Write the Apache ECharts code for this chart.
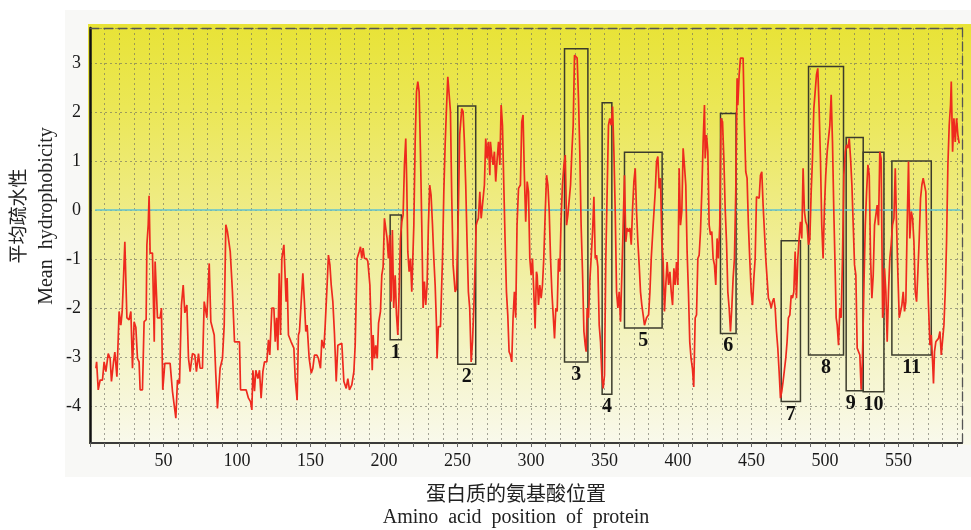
<!DOCTYPE html>
<html><head><meta charset="utf-8">
<script src="https://cdn.jsdelivr.net/npm/echarts@6/dist/echarts.min.js"></script>
<style>html,body{margin:0;padding:0;background:#fff}#c{width:971px;height:530px}</style>
</head><body><div id="c"></div>
<script>
// amino-acid positions and mean hydrophobicity
const positions = [
4.0,4.5,5.6,6.9,8.5,9.6,10.8,12.4,13.7,14.6,16.0,16.9,18.3,19.2,19.8,21.0,21.9,22.8,23.7,25.1,26.6,27.8,28.9,30.0,31.2,32.3,33.4,34.1,35.7,36.8,38.2,38.7,39.6,40.2,40.9,42.5,43.7,44.3,45.2,45.9,47.7,48.6,49.5,50.9,54.5,56.1,58.4,59.5,60.9,62.2,63.4,64.5,65.9,67.0,68.1,69.7,71.3,72.4,73.8,74.9,76.5,77.7,79.5,81.1,82.2,84.5,85.6,86.7,88.5,90.1,91.3,92.4,93.5,95.4,96.9,
98.3,101.7,102.4,104.6,106.2,107.8,109.2,110.1,110.8,111.9,112.8,114.2,115.3,116.4,117.6,118.7,120.3,121.4,122.3,123.7,125.1,126.0,126.9,127.8,128.7,129.6,130.5,131.9,132.8,133.4,134.1,135.0,136.8,138.7,139.6,140.9,141.8,142.5,143.7,144.8,145.9,146.8,147.7,149.1,150.5,151.6,152.7,154.3,155.4,156.8,157.7,159.1,160.0,161.3,162.2,163.2,164.1,165.2,166.3,167.5,168.6,169.7,171.3,172.7,174.3,175.4,176.5,178.1,179.5,180.4,181.7,183.1,184.0,184.9,185.8,186.7,188.1,189.0,190.4,191.3,192.0,192.6,193.5,194.4,195.4,196.3,197.6,198.5,199.4,
200.3,201.4,202.1,203.0,203.9,204.8,205.7,206.6,207.6,208.5,209.4,210.3,211.2,212.1,213.0,213.9,214.8,215.5,216.2,217.1,218.0,218.9,220.3,221.2,222.1,223.0,223.9,224.8,225.7,226.6,227.5,228.4,229.3,230.2,231.1,232.0,233.0,233.9,234.8,235.7,236.1,237.0,238.4,239.8,240.7,241.6,242.5,243.4,244.3,245.2,246.1,247.0,248.4,249.3,250.6,251.5,252.9,253.8,254.7,255.6,256.5,257.4,258.3,259.3,260.2,261.1,261.8,262.7,263.3,264.2,265.2,266.1,267.4,268.3,269.2,270.1,271.0,272.0,272.4,273.3,274.2,275.1,276.0,277.0,277.9,278.8,279.7,280.6,281.5,282.4,283.3,284.2,285.1,286.0,286.9,287.8,288.7,289.6,290.5,291.5,292.8,293.7,294.6,295.5,296.4,297.4,298.3,299.2,300.1,301.0,301.9,302.8,303.7,
304.2,305.1,306.0,306.9,307.8,308.7,309.7,310.6,311.5,312.4,313.3,314.2,315.1,316.0,316.9,317.8,318.7,319.6,320.5,321.4,322.4,323.3,324.2,325.1,326.0,326.9,327.8,328.7,329.6,330.5,331.4,332.3,333.2,334.1,335.1,336.0,336.9,337.5,338.2,339.1,340.0,340.9,341.9,342.8,343.7,344.6,345.5,346.4,347.3,348.2,349.1,350.0,350.9,351.8,352.7,353.6,354.6,355.5,356.4,357.3,358.2,359.1,360.0,360.9,361.8,362.7,363.6,364.5,365.4,366.3,367.3,368.2,369.1,370.0,370.9,371.8,372.7,373.6,374.5,375.4,376.3,377.2,378.6,380.0,380.9,381.8,383.1,384.5,385.4,386.3,387.2,388.1,389.0,389.9,390.8,391.7,392.6,393.6,394.5,395.4,396.3,397.2,398.1,399.0,399.9,400.8,401.7,402.6,403.5,
404.4,405.3,406.2,407.1,408.0,408.9,409.8,410.7,411.7,412.6,413.5,414.4,415.3,416.2,417.1,418.0,418.5,419.4,420.3,421.2,422.1,423.0,423.9,424.8,425.7,426.6,427.5,428.4,429.3,430.3,431.2,432.1,433.0,433.9,434.8,435.7,436.6,437.5,438.4,439.3,440.2,440.7,441.6,442.5,443.4,444.3,445.2,446.1,447.0,447.9,448.8,449.8,450.7,451.6,452.5,453.4,454.3,455.2,456.1,457.0,457.9,458.8,459.7,460.6,461.5,462.4,463.4,464.3,465.2,466.1,467.0,467.9,468.8,469.7,470.6,471.5,472.4,473.3,474.2,475.1,476.1,477.0,477.9,478.8,479.7,480.6,481.5,482.4,483.3,484.2,485.1,486.0,486.9,487.8,488.8,489.7,490.6,491.5,492.4,493.3,494.2,495.1,496.0,496.9,497.8,498.7,499.6,500.5,501.5,502.4,503.3,504.2,505.1,506.0,
506.9,507.6,508.3,509.2,510.1,511.0,511.9,512.8,513.8,514.7,515.6,516.5,517.4,518.3,519.2,520.1,521.0,521.9,522.8,523.7,524.6,525.5,526.5,527.4,528.3,529.2,530.1,531.0,531.9,532.8,533.7,534.6,535.5,536.4,537.3,538.2,539.2,540.1,540.5,541.4,542.3,543.2,544.1,545.0,545.9,546.9,547.8,548.7,549.6,550.5,551.4,552.3,553.2,554.1,555.0,555.9,556.8,557.7,558.7,559.6,560.5,561.4,562.3,563.2,564.1,565.0,565.9,566.8,567.7,568.6,569.5,570.4,571.4,572.3,573.2,573.8,574.5,575.4,576.3,577.2,578.2,579.1,580.0,580.9,581.8,582.7,583.6,584.5,585.4,585.9,586.8,587.7,588.6,589.5,590.4,591.3
];
const hydro = [
-3.23,-3.1,-3.67,-3.47,-3.47,-3.1,-3.3,-2.93,-3.03,-3.5,-3.1,-2.9,-3.4,-2.62,-2.07,-2.35,-2.07,-1.39,-0.65,-2.2,-2.24,-2.07,-3.23,-2.28,-2.4,-3.03,-3.1,-3.67,-3.67,-2.28,-2.24,-0.71,-0.3,0.29,-0.88,-0.88,-2.69,-1.05,-1.05,-2.2,-2.2,-2.0,-3.67,-3.13,-3.13,-3.7,-4.25,-3.47,-3.54,-1.94,-1.53,-2.1,-1.94,-3.03,-3.3,-2.93,-2.96,-3.3,-2.93,-3.23,-3.23,-1.87,-2.2,-1.09,-2.28,-2.55,-3.37,-4.05,-3.23,-3.03,-2.35,-0.3,-0.44,-0.85,-1.67,
-2.69,-2.69,-3.67,-3.67,-3.67,-3.84,-3.91,-4.08,-3.27,-3.7,-3.27,-3.44,-3.27,-3.84,-3.3,-3.1,-3.1,-2.65,-2.96,-2.0,-2.0,-2.69,-2.2,-2.86,-1.29,-2.55,-0.99,-0.71,-0.71,-1.87,-1.39,-2.55,-2.69,-2.82,-3.44,-3.88,-2.55,-2.48,-2.48,-1.29,-1.9,-2.48,-2.35,-3.03,-3.33,-3.23,-2.96,-2.96,-3.03,-3.23,-2.65,-2.82,-2.35,-1.53,-0.92,-1.12,-1.53,-1.87,-2.52,-3.5,-2.76,-2.72,-2.72,-3.5,-3.64,-3.44,-3.67,-3.57,-3.3,-2.76,-0.99,-0.85,-0.75,-0.99,-0.78,-0.99,-0.99,-1.05,-1.53,-2.48,-3.27,-2.55,-3.03,-2.76,-3.03,-2.31,-2.07,-1.33,-1.16,
-0.17,-0.14,-0.58,-0.99,-0.51,-1.87,-0.41,-2.0,-1.33,-2.14,-2.55,-1.67,-0.58,-0.24,-0.1,0.92,1.46,0.51,-0.85,-1.26,-0.99,-1.67,-0.31,1.39,2.41,2.62,2.41,1.19,-0.31,-2.0,-1.46,-1.94,-1.53,-0.31,0.51,0.31,-0.31,-0.99,-1.53,-2.35,-3.03,-2.38,-2.38,-0.99,0.37,1.33,2.07,2.72,2.72,2.01,0.24,-1.12,-1.67,-1.6,0.03,1.53,2.07,2.01,1.39,0.51,-0.65,-1.67,-2.0,-3.1,-2.69,-2.0,-1.33,-0.31,-0.24,-0.17,0.37,-0.17,-0.17,0.51,1.46,1.05,1.39,0.71,1.39,1.12,0.92,1.19,0.58,1.05,1.39,0.92,2.14,1.73,0.51,-0.65,-1.67,-2.14,-2.89,-2.96,-3.1,-2.2,-1.67,-2.2,-0.31,0.44,0.51,1.8,1.94,0.71,-0.24,0.58,0.37,-0.99,-1.33,-0.99,-1.67,-2.42,-1.26,
-1.33,-1.94,-1.53,-1.8,-1.53,-0.99,-0.03,0.71,0.51,-0.03,-0.99,-1.67,-2.14,-2.62,-2.0,-2.07,-0.99,-1.26,-0.17,0.51,0.92,1.12,-0.31,-0.1,-0.1,0.51,1.19,1.73,3.16,3.2,3.1,2.28,1.19,-0.31,-1.33,-2.48,-2.76,-2.89,-2.0,-2.2,-1.46,-0.99,-0.44,0.27,-0.99,-0.92,-1.16,-2.35,-2.69,-3.37,-3.64,-3.37,-0.99,0.37,1.73,1.87,1.73,2.11,1.19,-0.03,-1.67,-2.0,-1.67,-2.28,-1.33,-0.31,0.71,-0.65,-0.37,-0.44,-0.37,-0.71,0.03,0.58,0.85,-0.03,-0.65,-1.12,-1.67,-1.94,-2.14,-2.35,-2.2,-2.14,-1.67,-0.99,-0.31,0.37,0.99,1.09,0.44,0.65,-0.65,-1.06,-2.07,-1.53,-1.06,-1.53,-1.26,-1.67,-1.94,-1.19,-1.53,-1.06,-1.53,0.85,-0.31,-0.03,1.26,
0.9,0.51,-0.85,-1.67,-2.69,-3.03,-3.23,-3.61,-2.2,-2.14,-0.99,-0.92,-0.44,0.37,1.39,2.14,1.05,1.53,1.19,-0.31,-0.51,-0.44,-0.99,-1.12,-1.53,-0.58,-0.99,-0.31,1.87,1.8,1.05,0.03,-0.65,-1.67,-2.0,-2.48,-2.0,-1.39,-0.99,0.37,2.69,2.14,2.76,3.1,3.13,3.1,1.73,0.78,0.65,-0.31,-0.99,-1.67,-1.94,-1.39,-0.99,0.27,0.31,0.24,0.71,0.78,0.1,-0.44,-0.99,-1.39,-1.8,-1.87,-2.0,-1.87,-1.8,-2.0,-2.48,-2.82,-3.3,-3.84,-3.7,-3.5,-3.5,-3.03,-2.69,-2.2,-2.14,-1.74,-1.8,-1.67,-0.85,-1.8,-0.99,-0.58,-0.24,-0.58,0.85,-0.03,-0.24,-0.31,-0.71,-0.58,0.37,1.05,2.07,2.41,2.76,2.89,2.07,1.05,-0.31,-0.99,0.03,0.71,1.19,1.46,1.73,2.35,1.39,-0.03,
-1.2,-2.2,-2.35,-2.76,-2.0,-2.2,-0.99,0.71,1.19,1.33,1.26,1.46,1.05,0.51,-0.31,-1.12,-1.33,-2.82,-2.82,-2.96,-3.67,-3.03,-1.53,-0.31,0.37,0.92,0.71,-0.99,-1.8,-1.33,-0.31,-0.31,0.1,-0.31,1.19,1.05,-2.2,-1.9,-1.19,-1.67,-2.69,-1.67,-0.99,-0.71,-0.31,-0.17,0.85,-0.31,-1.33,-2.2,-2.2,-1.94,-1.67,-2.07,-1.87,-0.31,0.99,-0.58,-0.03,-0.17,-0.65,-1.67,-1.87,-1.26,-0.58,0.24,0.51,0.65,0.68,0.37,-0.99,-1.94,-2.76,-2.55,-3.1,-3.54,-2.89,-2.69,-2.69,-2.62,-2.48,-2.96,-2.96,-2.35,-1.67,-0.65,0.92,1.73,2.14,2.62,1.19,1.87,1.39,1.87,1.53,1.36
];
// reference line at zero
const zeroX = [3.5, 592];
const zeroY = [0, 0];
// highlighted regions (boxes) and their labels
const boxLabels = ['1','2','3','4','5','6','7','8','9','10','11'];
const boxStart = [204.2, 250.2, 322.8, 348.4, 363.6, 428.9, 470.2, 488.8, 514.4, 526.0, 545.5];
const boxEnd   = [211.8, 262.4, 338.7, 355.0, 389.2, 439.5, 483.3, 512.6, 526.0, 540.1, 572.3];
const boxLow   = [-2.65, -3.15, -3.1, -3.76, -2.41, -2.52, -3.91, -2.96, -3.69, -3.71, -2.96];
const boxHigh  = [-0.1, 2.12, 3.29, 2.19, 1.18, 1.97, -0.63, 2.93, 1.48, 1.18, 1.0];
const xTickLabels = [50,100,150,200,250,300,350,400,450,500,550];
const yTickLabels = [-4,-3,-2,-1,0,1,2,3];
const xRange = [0, 593.2];
const yRange = [-4.755, 3.714];

const chart = echarts.init(document.getElementById('c'));
const serif = 'Liberation Serif, DejaVu Serif, serif';
const gridDash = {type:[2,3], color:'rgba(105,105,95,0.6)', width:1};
const G = {left:90, top:28, width:872, height:415};

chart.setOption({
  animation:false,
  backgroundColor:'#ffffff',
  graphic:[
    {type:'rect', z:-20, shape:{x:65,y:10,width:906,height:467}, style:{fill:'#f8f8f6'}},
    {type:'rect', z:-15, shape:{x:88,y:24,width:883,height:421},
      style:{fill:new echarts.graphic.LinearGradient(0,0,0,1,[
        {offset:0,color:'#e8e336'},{offset:0.2,color:'#ebe756'},{offset:0.45,color:'#efec88'},
        {offset:0.7,color:'#f3f2b8'},{offset:1,color:'#f9f9ec'}])}},
    {type:'text', z:10, x:18, y:216, rotation:Math.PI/2,
      style:{text:'平均疏水性', fontSize:19, fontFamily:'Noto Sans CJK SC', fill:'#222', align:'center', verticalAlign:'middle'}},
    {type:'text', z:10, x:47, y:216, rotation:Math.PI/2,
      style:{text:'Mean  hydrophobicity', fontSize:20, fontFamily:serif, fill:'#222', align:'center', verticalAlign:'middle'}},
    {type:'text', z:10, x:516, y:493,
      style:{text:'蛋白质的氨基酸位置', fontSize:20, fontFamily:'Noto Sans CJK SC', fill:'#222', align:'center', verticalAlign:'middle'}},
    {type:'text', z:10, x:516, y:518,
      style:{text:'Amino  acid  position  of  protein', fontSize:20, fontFamily:serif, fill:'#222', align:'center', verticalAlign:'middle'}}
  ],
  grid:{left:G.left, top:G.top, width:G.width, height:G.height, show:false},
  xAxis:[
    {type:'value', min:xRange[0], max:xRange[1], interval:10,
      axisLine:{onZero:false, lineStyle:{color:'#3a3a3a', width:2}},
      axisTick:{show:true, length:4, lineStyle:{color:'#666'}},
      axisLabel:{showMaxLabel:false, margin:9, fontSize:18, fontFamily:serif, color:'#1a1a1a',
        formatter:v => xTickLabels.includes(v) ? String(v) : ''},
      splitLine:{show:true, lineStyle:gridDash}},
    {type:'value', position:'top', min:xRange[0], max:xRange[1],
      axisLine:{show:true, onZero:false, lineStyle:{color:'#555', width:1.3, type:[9,5]}},
      axisTick:{show:false}, axisLabel:{show:false}, splitLine:{show:false}}
  ],
  yAxis:[
    {type:'value', min:yRange[0], max:yRange[1], splitNumber:8,
      axisLine:{show:true, onZero:false, lineStyle:{color:'#111', width:2.5}},
      axisTick:{show:false},
      axisLabel:{showMinLabel:false, showMaxLabel:false, margin:9, fontSize:18, fontFamily:serif, color:'#1a1a1a',
        formatter:v => yTickLabels.includes(v) ? String(v) : ''},
      splitLine:{show:true, lineStyle:gridDash}},
    {type:'value', position:'right', min:yRange[0], max:yRange[1],
      axisLine:{show:true, onZero:false, lineStyle:{color:'#555', width:1.3, type:[9,5]}},
      axisTick:{show:false}, axisLabel:{show:false}, splitLine:{show:false}}
  ],
  series:[
    {type:'line', name:'zero', data:zeroX.map((x,i)=>[x,zeroY[i]]), showSymbol:false, silent:true,
      lineStyle:{color:'#62c4cf', width:1.6}, z:2},
    {type:'line', name:'hydrophobicity', data:positions.map((x,i)=>[x,hydro[i]]), showSymbol:false,
      lineStyle:{color:'#ee2a1e', width:1.7}, z:3,
      markArea:{silent:true,
        itemStyle:{color:'rgba(0,0,0,0)', borderColor:'#3b3b2c', borderWidth:1.5},
        label:{show:true, position:'bottom', distance:2, color:'#111', fontFamily:serif, fontWeight:'bold', fontSize:20},
        data:boxLabels.map((l,i)=>[
          {name:l, xAxis:boxStart[i], yAxis:boxLow[i], label: l==='9' ? {offset:[-4,0]} : undefined},
          {xAxis:boxEnd[i], yAxis:boxHigh[i]}])}}
  ]
});
</script></body></html>
